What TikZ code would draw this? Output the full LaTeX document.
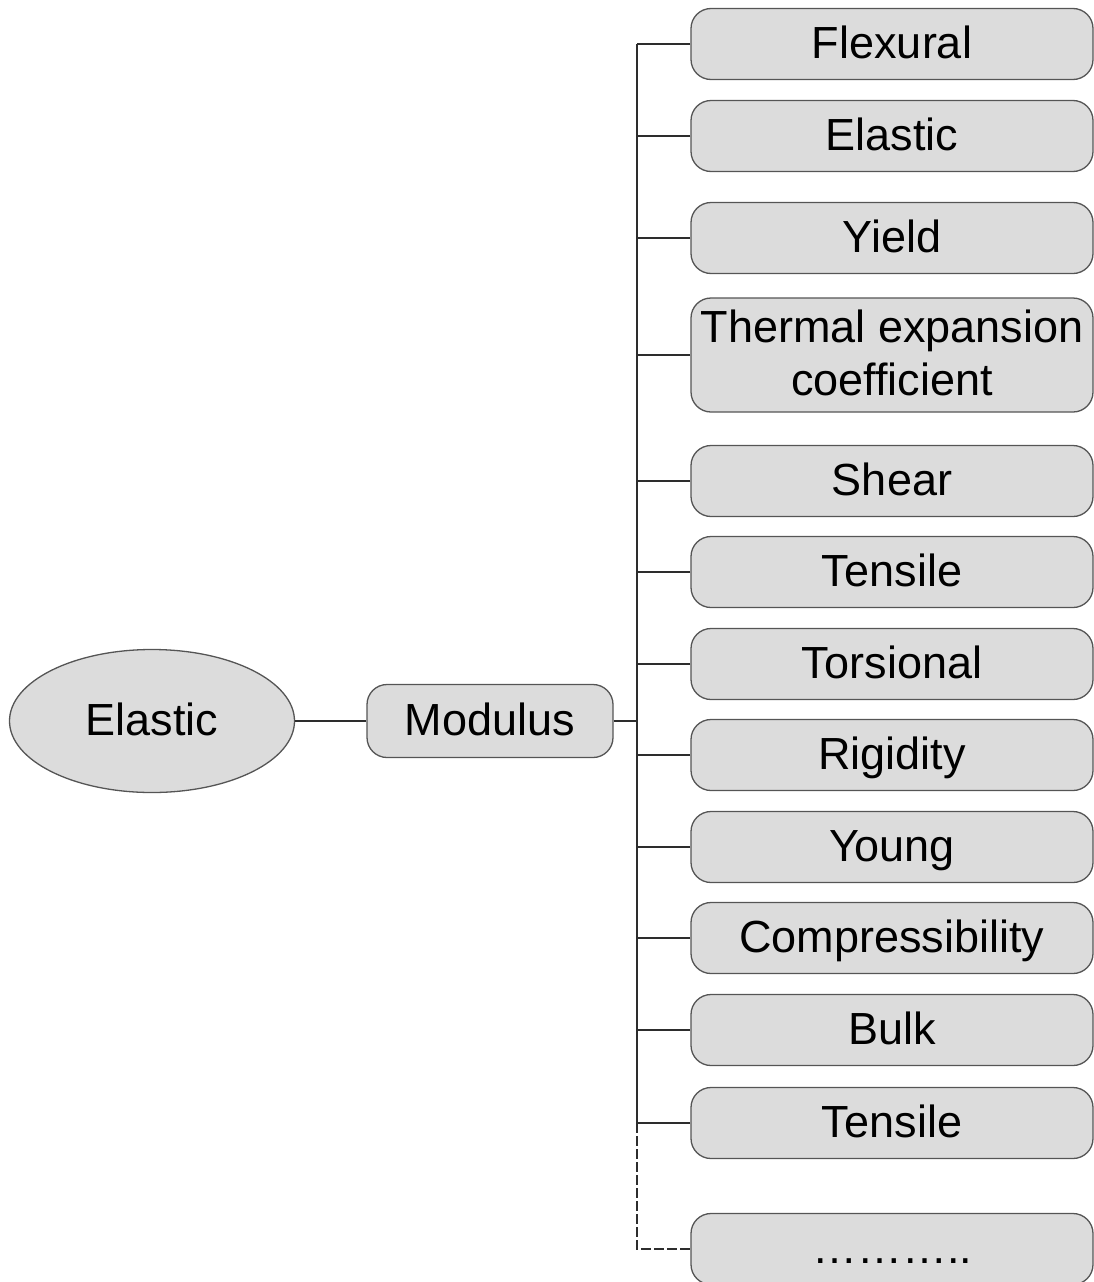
\documentclass[tikz,border=0pt]{standalone}
\usepackage{fontspec}
\setmainfont{Liberation Sans}
\usetikzlibrary{shapes.geometric}
\definecolor{boxfill}{RGB}{220,220,220}
\definecolor{boxline}{RGB}{85,85,85}
\definecolor{connline}{RGB}{45,45,45}
\begin{document}
\begin{tikzpicture}[x=1pt,y=-1pt,
  txt/.style={font=\fontsize{45}{53}\selectfont, text=black},
  ell/.style={txt, ellipse, draw=boxline, fill=boxfill, line width=1.3pt,
    minimum width=285pt, minimum height=143pt, inner sep=0pt, text height=33pt, text depth=5pt},
  rbox/.style={txt, draw=boxline, fill=boxfill, line width=1.3pt, rounded corners=20pt,
    minimum width=402pt, minimum height=71pt, inner sep=0pt, text height=33pt, text depth=5pt},
  modbox/.style={rbox, minimum width=246pt, minimum height=73pt},
  conn/.style={draw=connline, line width=1.4pt},
  dconn/.style={conn, dash pattern=on 10pt off 3pt}
]
\useasboundingbox (0,0) rectangle (1094,1282);
\node[ell] (el) at (152,721) {Elastic};
\node[modbox] (mod) at (490,721) {Modulus};
\coordinate (trunk) at (637,0);

\node[rbox] (b1) at (892,44) {Flexural};
\node[rbox] (b2) at (892,136) {Elastic};
\node[rbox] (b3) at (892,238) {Yield};
\node[rbox, minimum height=114pt, align=center, text height=, text depth=] (b4) at (892,355)
  {Thermal expansion\\coefficient\rule[-4pt]{0pt}{0pt}};
\node[rbox] (b5) at (892,481) {Shear};
\node[rbox] (b6) at (892,572) {Tensile};
\node[rbox] (b7) at (892,664) {Torsional};
\node[rbox] (b8) at (892,755) {Rigidity};
\node[rbox] (b9) at (892,847) {Young};
\node[rbox] (b10) at (892,938) {Compressibility};
\node[rbox] (b11) at (892,1030) {Bulk};
\node[rbox] (b12) at (892,1123) {Tensile};
\node[rbox] (b13) at (892,1249) {\char"2026\char"2026\char"2026..};

\draw[conn] (el.east) -- (mod.west);
\draw[conn] (mod.east) -- (mod.east -| trunk);
\draw[conn] (b1.west -| trunk) -- (b12.west -| trunk);
\foreach \i in {1,...,12} {
  \draw[conn] (b\i.west) -- (b\i.west -| trunk);
}
\draw[dconn] (b12.west -| trunk) |- (b13.west);
\end{tikzpicture}
\end{document}
